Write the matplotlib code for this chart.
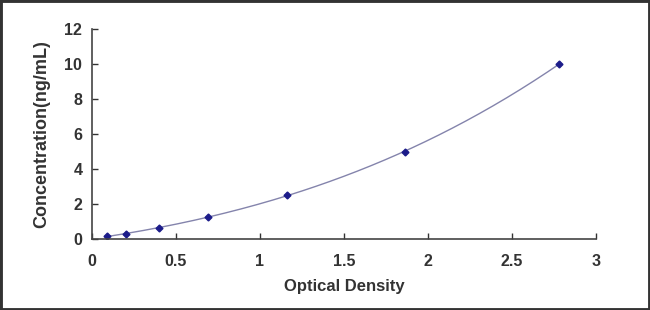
import matplotlib.pyplot as plt
import numpy as np
from matplotlib.patches import Rectangle

# standard curve data
od = [0.09, 0.20, 0.40, 0.69, 1.16, 1.86, 2.78]
conc = [0.156, 0.312, 0.625, 1.25, 2.5, 5.0, 10.0]

plt.rcParams['font.family'] = ['Liberation Sans', 'DejaVu Sans']
plt.rcParams['font.weight'] = 'bold'

fig = plt.figure(figsize=(6.5, 3.1), dpi=100)
ax = fig.add_axes([0.1415, 0.229, 0.7755, 0.677])

# fitted curve
coef = np.polyfit(od, conc, 3)
xs = np.linspace(min(od), max(od), 200)
ax.plot(xs, np.polyval(coef, xs), color='#8484ac', lw=1.0)
ax.plot(od, conc, 'D', color='#1c1c8a', markersize=3.5)

ax.set_xlim(0, 3)
ax.set_ylim(0, 12)
ax.set_xticks([0, 0.5, 1, 1.5, 2, 2.5, 3])
ax.set_xticklabels(['0', '0.5', '1', '1.5', '2', '2.5', '3'])
ax.set_yticks([0, 2, 4, 6, 8, 10, 12])
ax.tick_params(direction='in', length=4, width=1, labelsize=11.5, colors='#333333')
ax.tick_params(axis='x', pad=11)
ax.tick_params(axis='y', pad=7)
for s in ['top', 'right']:
    ax.spines[s].set_visible(False)
for s in ['left', 'bottom']:
    ax.spines[s].set_color('#444444')
    ax.spines[s].set_linewidth(1.2)

ax.set_xlabel('Optical Density', fontsize=12, fontweight='bold', color='#333333', labelpad=7)
ax.set_ylabel('Concentration(ng/mL)', fontsize=13, fontweight='bold', color='#333333', labelpad=10)

# dark frame around image
fig.patches.append(Rectangle((0, 0), 1, 1, transform=fig.transFigure,
                             fill=False, edgecolor='#333333', linewidth=3.5))

fig.savefig('out.png', dpi=100)
